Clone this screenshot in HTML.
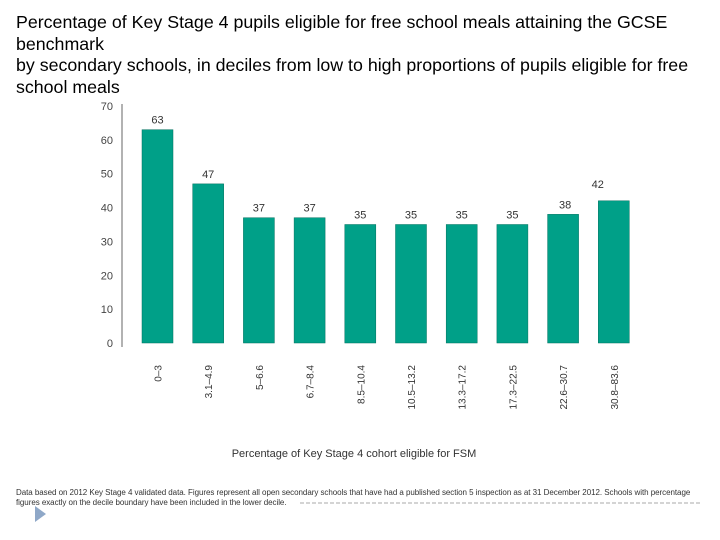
<!DOCTYPE html>
<html><head><meta charset="utf-8"><style>
body{margin:0;width:720px;height:540px;background:#fff;position:relative;overflow:hidden;font-family:"Liberation Sans",sans-serif}
#title{position:absolute;left:16px;top:12px;font-size:17.8px;line-height:21.7px;color:#000;white-space:nowrap}
#note{position:absolute;left:16px;top:488px;font-size:8px;line-height:10px;color:#333;white-space:nowrap;letter-spacing:-0.05px}
</style></head><body>
<div id="title">Percentage of Key Stage 4 pupils eligible for free school meals attaining the GCSE<br>benchmark<br>by secondary schools, in deciles from low to high proportions of pupils eligible for free<br>school meals</div>
<svg id="chart" width="720" height="540" style="position:absolute;left:0;top:0"></svg>
<div id="note">Data based on 2012 Key Stage 4 validated data. Figures represent all open secondary schools that have had a published section 5 inspection as at 31 December 2012. Schools with percentage<br>figures exactly on the decile boundary have been included in the lower decile.</div>
<script>
const categories=["0–3","3.1–4.9","5–6.6","6.7–8.4","8.5–10.4","10.5–13.2","13.3–17.2","17.3–22.5","22.6–30.7","30.8–83.6"];
const values=[63,47,37,37,35,35,35,35,38,42];
const yTicks=[0,10,20,30,40,50,60,70];
const svg=document.getElementById('chart');
const NS='http://www.w3.org/2000/svg';
const y0=343,yScale=237/70,x0=142,step=50.7,bw=31;
const y=v=>y0-v*yScale;
const x=i=>x0+i*step;
function mk(t,a){const e=document.createElementNS(NS,t);for(const k in a)e.setAttribute(k,a[k]);svg.appendChild(e);return e;}
const ax=mk('line',{x1:122,x2:122,y1:104,y2:347,stroke:'#999','stroke-width':1.5});


yTicks.forEach(t=>{const e=mk('text',{x:113,y:y(t)+4,'text-anchor':'end','font-size':11,fill:'#444'});e.textContent=t;

});
values.forEach((v,i)=>{
const r=mk('rect',{x:x(i),y:y(v),width:bw,height:y0-y(v),fill:'#00a088',stroke:'#00705e','stroke-width':0.5});


const l=mk('text',{x:x(i)+bw/2,y:y(v)-6,'text-anchor':'middle','font-size':11,fill:'#333'});l.textContent=v;
if(i==9){l.setAttribute('y',y(v)-13);l.setAttribute('x',x(i)+bw/2-16);}
if(i==8){l.setAttribute('x',x(i)+bw/2+2);}


const c=mk('text',{x:0,y:0,'text-anchor':'end','font-size':10,fill:'#333',transform:`translate(${x(i)+bw/2+4},365) rotate(-90)`});c.textContent=categories[i];


});
const xt=mk('text',{x:354,y:457,'text-anchor':'middle','font-size':11,fill:'#333'});xt.textContent='Percentage of Key Stage 4 cohort eligible for FSM';


const dl=mk('line',{x1:300,x2:700,y1:503,y2:503,stroke:'#aaa','stroke-dasharray':'4,2'});


const ar=mk('polygon',{points:'35,506 35,522 46,514',fill:'#8fa8c8'});


</script>
</body></html>
